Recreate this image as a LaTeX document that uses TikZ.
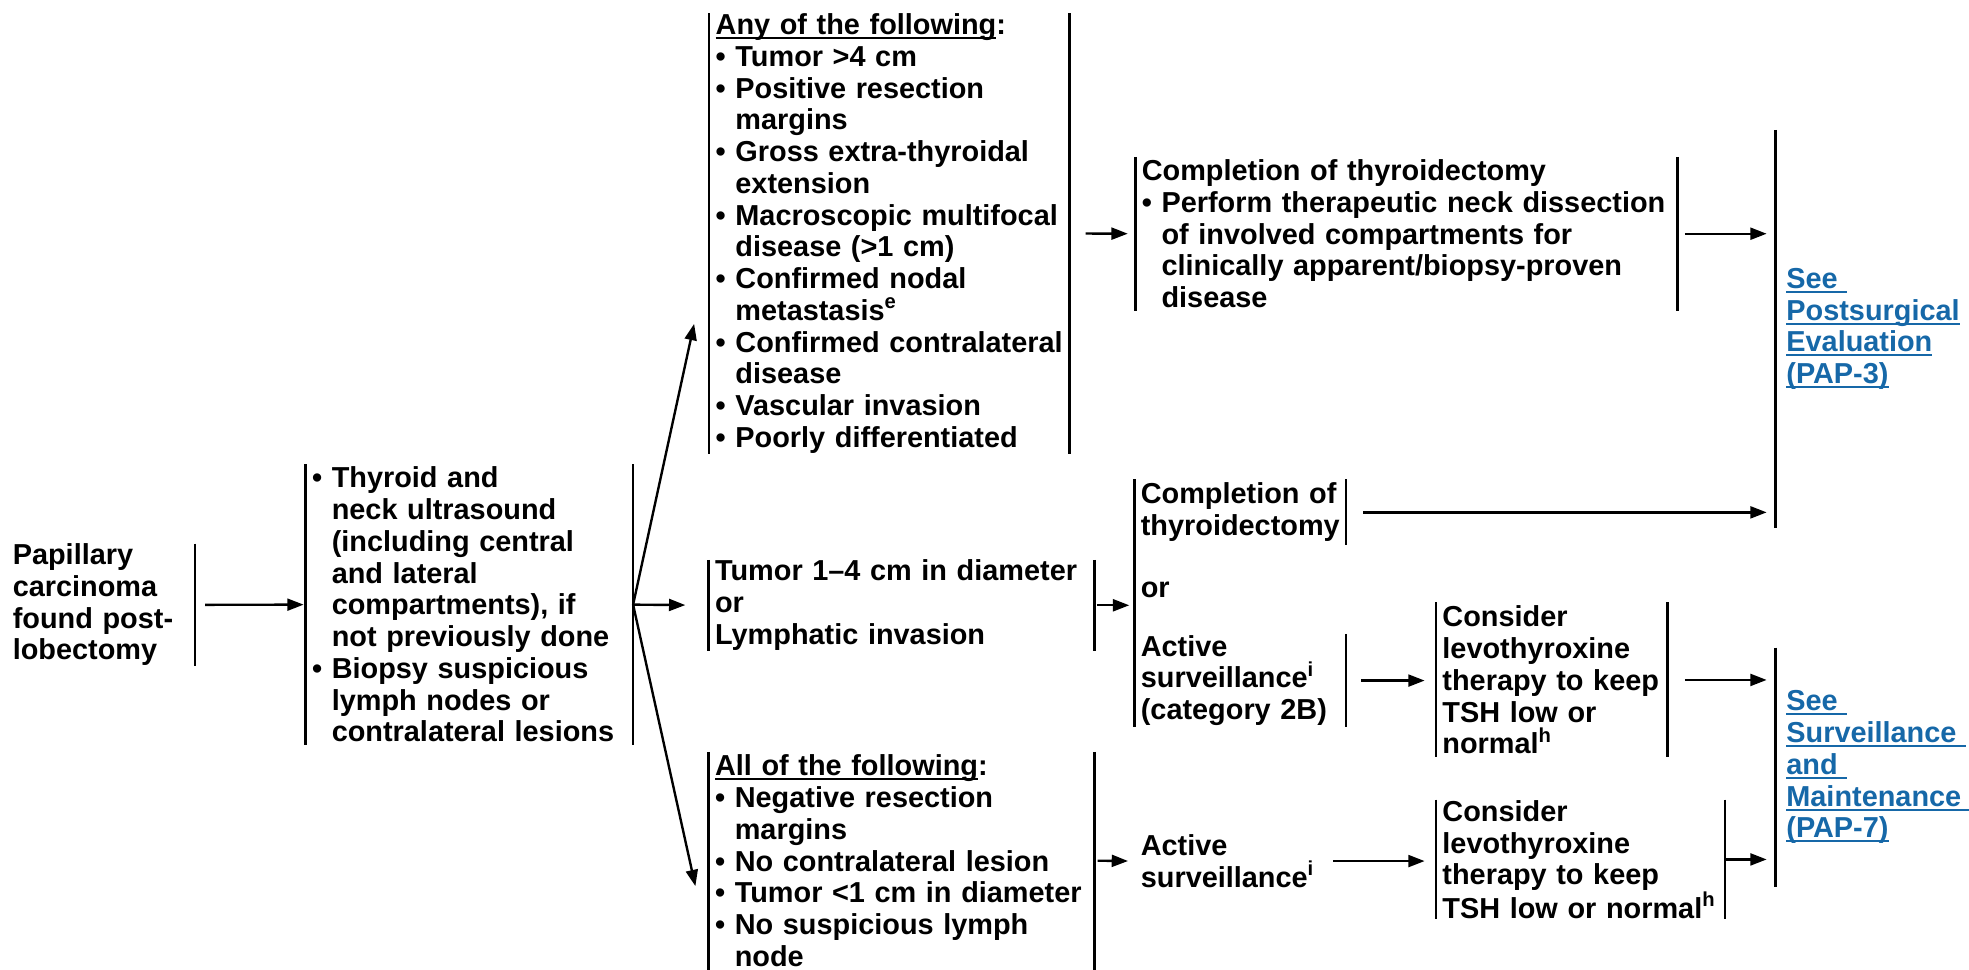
\documentclass[tikz,border=0pt]{standalone}
\usepackage{fontspec}
\setmainfont{Liberation Sans}
\usepackage{tikz}
\usetikzlibrary{arrows.meta}
\definecolor{linkblue}{RGB}{22,104,168}
\hyphenpenalty=10000
\exhyphenpenalty=10000
\newcommand{\bul}{\textbullet\ }
\newcommand{\ind}{\hphantom{\textbullet\ }}
\newcommand{\undl}[1]{\leavevmode\sbox0{#1}\rlap{\rule[-3.6pt]{\wd0}{1.5pt}}\usebox0}
\tikzset{
  txt/.style={font=\fontsize{23}{25.3}\selectfont\bfseries, align=left, inner xsep=5pt, inner ysep=0pt, anchor=north west},
  lbar/.style={append after command={(\tikzlastnode.north west) edge[line width=1.9pt] (\tikzlastnode.south west)}},
  rbar/.style={append after command={(\tikzlastnode.north east) edge[line width=1.9pt] (\tikzlastnode.south east)}},
  bars/.style={lbar, rbar},
  go/.style={-{Triangle[length=13pt,width=9.5pt]}, line width=1.9pt},
  lnk/.style={txt, lbar, text=linkblue, inner xsep=8.5pt, text width=145pt}
}
\begin{document}
\begin{tikzpicture}[x=1pt, y=-1pt]
    \useasboundingbox (0,0) rectangle (1568.7,772);
    \node[txt, rbar, text width=140pt, minimum height=97pt] (pap) at (5,433) {Papillary\\ carcinoma\\ found post-\\ lobectomy};
    \node[txt, bars, text width=250.6pt, minimum height=223pt] (tests) at (243.4,370) {\bul Thyroid and\\ \ind neck ultrasound\\ \ind (including central\\ \ind and lateral\\ \ind compartments), if\\ \ind not previously done\\ \bul Biopsy suspicious\\ \ind lymph nodes or\\ \ind contralateral lesions};
    \node[txt, bars, text width=276.6pt, minimum height=350.4pt] (any) at (565,10.6) {\undl{Any of the following}:\\ \bul Tumor >4 cm\\ \bul Positive resection\\ \ind margins\\ \bul Gross extra-thyroidal\\ \ind extension\\ \bul Macroscopic multifocal\\ \ind disease (>1 cm)\\ \bul Confirmed nodal\\ \ind metastasis\textsuperscript{e}\\ \bul Confirmed contralateral\\ \ind disease\\ \bul Vascular invasion\\ \bul Poorly differentiated};
    \node[txt, bars, text width=297pt, minimum height=72pt] (mid) at (564.5,446) {Tumor 1--4 cm in diameter\\ or\\ Lymphatic invasion};
    \node[txt, bars, text width=297pt, minimum height=173pt] (all) at (564.5,599) {\undl{All of the following}:\\ \bul Negative resection\\ \ind margins\\ \bul No contralateral lesion\\ \bul Tumor <1 cm in diameter\\ \bul No suspicious lymph\\ \ind node};
    \node[txt, bars, text width=421.5pt, minimum height=122pt] (compl) at (904.5,125) {Completion of thyroidectomy\\ \bul Perform therapeutic neck dissection\\ \ind of involved compartments for\\ \ind clinically apparent/biopsy-proven\\ \ind disease};
    \node[txt, rbar, text width=158.3pt, minimum height=52pt] (ct) at (903.7,382) {Completion of\\ thyroidectomy};
    \node[txt, anchor=west] (ortxt) at (903.7,470) {or};
    \node[txt, rbar, text width=158.3pt, minimum height=74pt] (as) at (903.7,505) {Active\\ surveillance\textsuperscript{i}\\ (category 2B)};
    \node[txt, anchor=west] (as2) at (903.7,686) {Active\\ surveillance\textsuperscript{i}};
    \node[txt, bars, text width=174pt, minimum height=123pt] (lev1) at (1144,480) {Consider\\ levothyroxine\\ therapy to keep\\ TSH low or\\ normal\textsuperscript{h}};
    \node[txt, bars, text width=220pt, minimum height=95pt] (lev2) at (1144,637) {Consider\\ levothyroxine\\ therapy to keep\\ TSH low or normal\textsuperscript{h}};
    \node[lnk, minimum height=316.5pt] (link1) at (1414.5,103.5) {\undl{See\ }\\ \undl{Postsurgical}\\ \undl{Evaluation}\\ \undl{(PAP-3)}};
    \node[lnk, minimum height=190pt] (link2) at (1414.5,516) {\undl{See\ }\\ \undl{Surveillance\ }\\ \undl{and\ }\\ \undl{Maintenance\ }\\ \undl{(PAP-7)}};
    \draw[line width=1.9pt] (ct.north west) -- (ct.north west |- as.south west);
    \coordinate (up) at (553,258);
    \coordinate (dn) at (554,706);
    \draw[go, shorten <=8pt, shorten >=1.5pt] (pap.east) -- (tests.west);
    \draw[go] (tests.east) -- (up);
    \draw[go, shorten >=18.5pt] (tests.east) -- (mid.west);
    \draw[go] (tests.east) -- (dn);
    \draw[go, shorten <=13pt, shorten >=6pt] (any.east) -- (compl.west);
    \draw[go, shorten <=2pt, shorten >=4pt] (mid.east) -- (mid.east -| ct.west);
    \draw[go, shorten <=2.5pt, shorten >=5pt] (all.east) -- (as2.west);
    \draw[go, shorten <=6pt, shorten >=7pt] (compl.east) -- (compl.east -| link1.west);
    \draw[go, shorten <=13.5pt, shorten >=7pt] (ct.east) -- (ct.east -| link1.west);
    \draw[go, shorten <=12pt, shorten >=9pt] (as.east) -- (as.east -| lev1.west);
    \draw[go, shorten <=14pt, shorten >=7pt] (lev1.east) -- (lev1.east -| link2.west);
    \draw[go, shorten <=10pt, shorten >=9pt] (as2.east) -- (as2.east -| lev2.west);
    \draw[go, shorten <=1pt, shorten >=7pt] (lev2.east) -- (lev2.east -| link2.west);
\end{tikzpicture}
\end{document}
